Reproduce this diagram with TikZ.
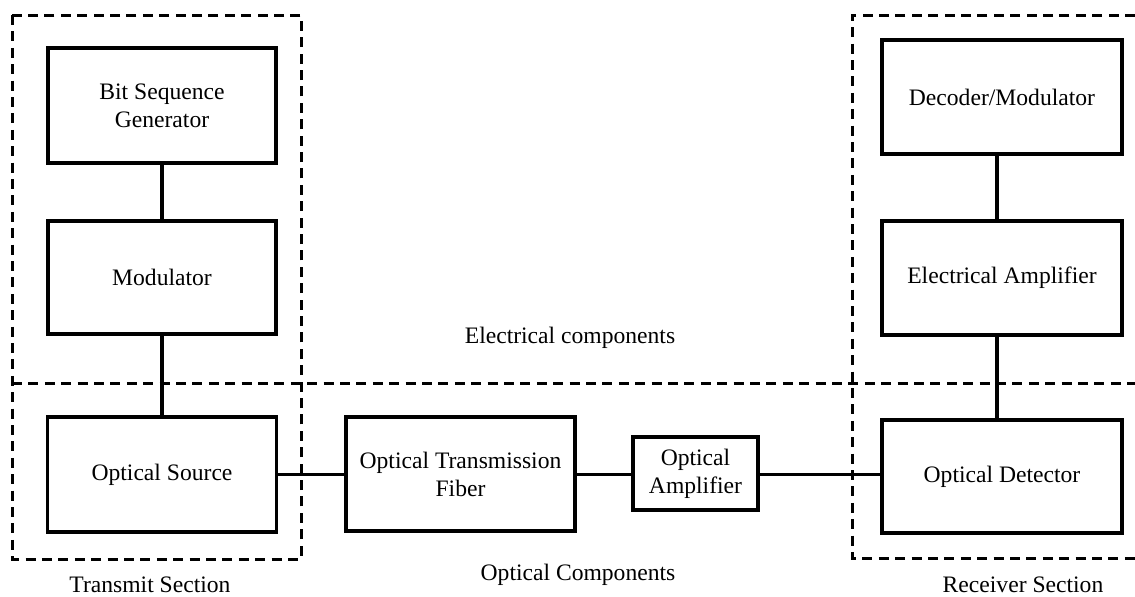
\documentclass[tikz,border=0pt]{standalone}
\usepackage{fontspec}
\setmainfont{Liberation Serif}
\usetikzlibrary{positioning}

\begin{document}
\begin{tikzpicture}[x=0.5pt,y=-0.5pt,font=\fontsize{11.8}{14}\selectfont,
  blk/.style={draw,line width=1.7pt,align=center,inner sep=0pt},
  sec/.style={line width=1.5pt,dash pattern=on 5pt off 3.2pt},
  wire/.style={line width=1.6pt}]
\useasboundingbox (0,0) rectangle (1135,596);
% transmitter side
\node[blk,minimum width=114pt,minimum height=57.5pt] (bsg) at (162,105.5) {Bit Sequence\\Generator};
\node[blk,minimum width=114pt,minimum height=56.5pt] (mod) at (162,277.5) {Modulator};
\node[blk,minimum width=114.5pt,minimum height=57.5pt] (src) at (162,474.5) {Optical Source};
% link
\node[blk,minimum width=114.5pt,minimum height=57pt] (fib) at (460.5,474) {Optical Transmission\\Fiber};
\node[blk,minimum width=62.5pt,minimum height=36.5pt] (amp) at (695.5,473.5) {Optical\\Amplifier};
% receiver side
\node[blk,minimum width=120pt,minimum height=57pt] (dec) at (1002,97) {Decoder/Modulator};
\node[blk,minimum width=120pt,minimum height=57pt] (ea) at (1002,278) {Electrical Amplifier};
\node[blk,minimum width=120pt,minimum height=56.5pt] (det) at (1002,476.5) {Optical Detector};
% connectors
\draw[wire] (bsg) -- (mod);
\draw[wire] (mod) -- (src);
\foreach \a/\b in {src/fib,fib/amp,amp/det}{
  \draw[wire] (\a.east |- 0,474.5) -- (\b.west |- 0,474.5);
}
\draw[wire] ([xshift=-2.5pt]dec.south) -- ([xshift=-2.5pt]ea.north);
\draw[wire] ([xshift=-2.5pt]ea.south) -- ([xshift=-2.5pt]det.north);
% sections
\draw[sec] (12,15) rectangle (301,559);
\draw[sec] (1135,15) -| (852,558) -- (1135,558);
\draw[sec] (12,383) -- (1135,383);
\node (elec) at (570,338) {Electrical components};
\node (opt) at (578,575) {Optical Components};
\node (tx) at (150,585) {Transmit Section};
\node (rx) at (1023,585) {Receiver Section};
\end{tikzpicture}
\end{document}
